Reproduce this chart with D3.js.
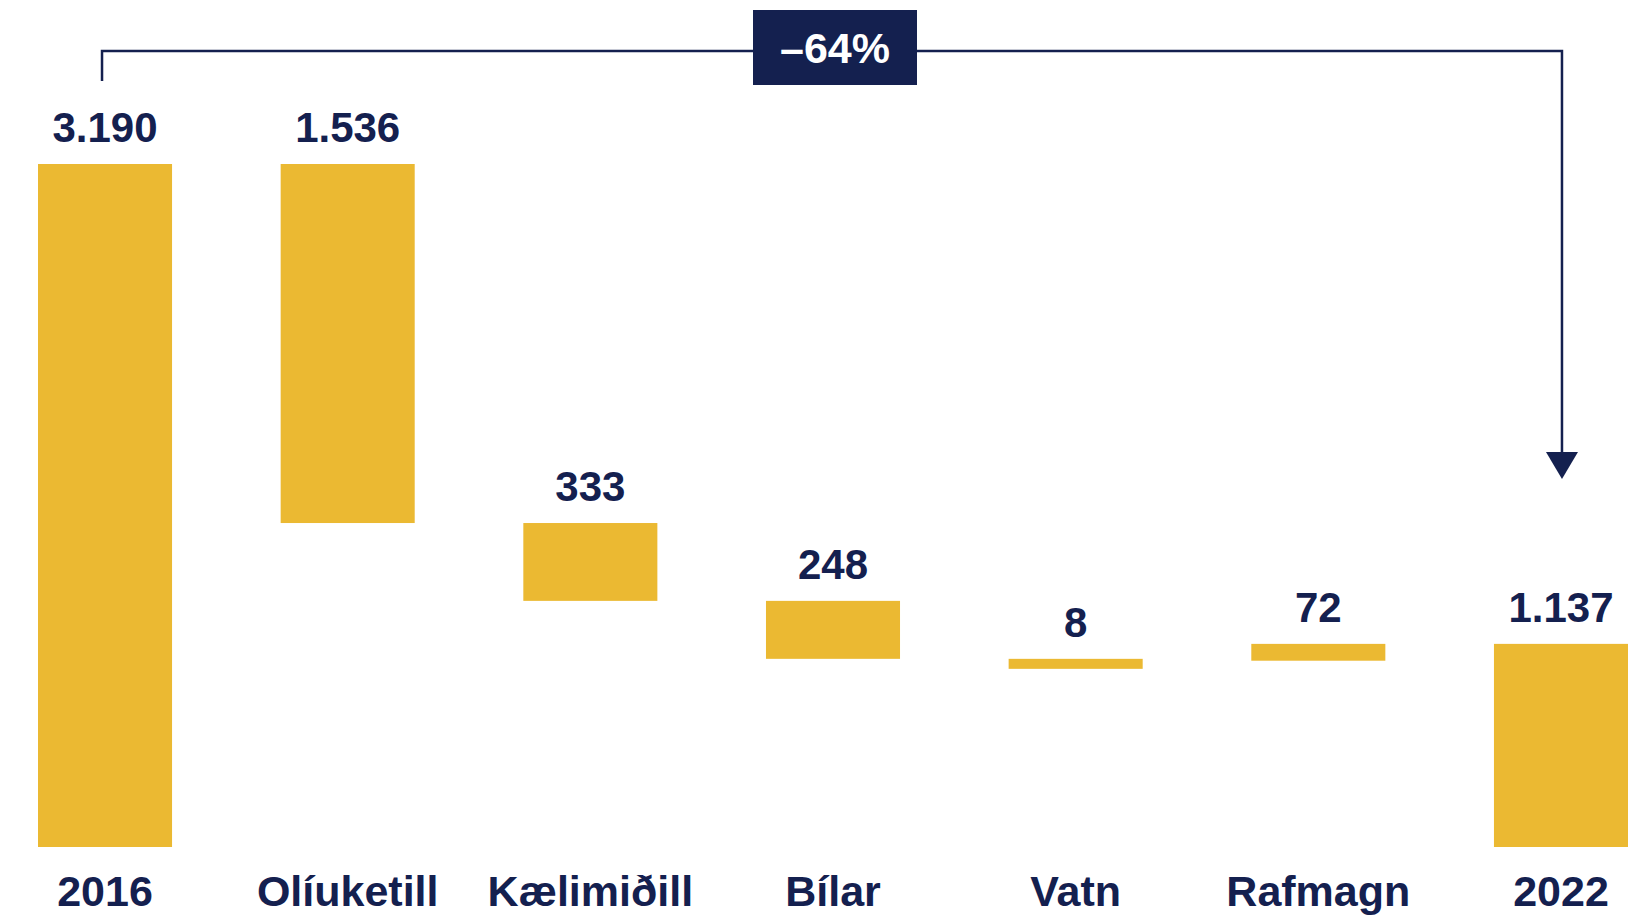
<!DOCTYPE html>
<html>
<head>
<meta charset="utf-8">
<script src="https://cdn.jsdelivr.net/npm/d3@7"></script>
<style>
  html, body { margin: 0; padding: 0; background: #ffffff; }
  svg { display: block; }
  text { font-family: "Liberation Sans", Arial, Helvetica, sans-serif; font-weight: bold; }
</style>
</head>
<body>
<svg id="chart" width="1630" height="916"></svg>
<script>
// Waterfall steps: start total, changes, end total
const categories = ["2016", "Olíuketill", "Kælimiðill", "Bílar", "Vatn", "Rafmagn", "2022"];
const kinds      = ["total", "delta", "delta", "delta", "delta", "delta", "total"];
const changes    = [3190, -1536, -333, -248, -8, 72, 1137];
const valueLabels = ["3.190", "1.536", "333", "248", "8", "72", "1.137"];
const changeLabel = "–64%";

const GOLD = "#EBB932";
const NAVY = "#14204F";

const svg = d3.select("#chart");

// running totals -> [from, to] for each bar
let running = 0;
const bars = categories.map((c, i) => {
  let from, to;
  if (kinds[i] === "total") { from = 0; to = changes[i]; running = changes[i]; }
  else { from = running; to = running + changes[i]; running = to; }
  return { cat: c, from, to, label: valueLabels[i] };
});

const x = d3.scaleBand()
  .domain(categories)
  .range([38, 1628])
  .paddingInner(0.4476)
  .paddingOuter(0);

// value axis starts above zero so the small steps stay readable
const y = d3.scaleLinear().domain([268, 3190]).range([847, 164]);
const baseY = y.range()[0];
const minBar = 10;

function barTop(d) {
  const lo = d.from === 0 ? baseY : y(d.from);
  const hi = y(d.to);
  return Math.min(lo, hi);
}
function barHeight(d) {
  const lo = d.from === 0 ? baseY : y(d.from);
  const hi = y(d.to);
  return Math.max(minBar, Math.abs(lo - hi));
}

svg.append("g")
  .selectAll("rect")
  .data(bars)
  .join("rect")
  .attr("x", d => x(d.cat))
  .attr("y", d => barTop(d))
  .attr("width", x.bandwidth())
  .attr("height", d => barHeight(d))
  .attr("fill", GOLD);

// value labels above each bar
svg.append("g")
  .selectAll("text")
  .data(bars)
  .join("text")
  .attr("x", d => x(d.cat) + x.bandwidth() / 2)
  .attr("y", d => barTop(d) - 22)
  .attr("text-anchor", "middle")
  .attr("font-size", 42)
  .attr("fill", NAVY)
  .text(d => d.label);

// category axis labels
const xAxis = svg.append("g")
  .attr("transform", `translate(0,${baseY})`)
  .call(d3.axisBottom(x).tickSize(0).tickPadding(0));
xAxis.select(".domain").remove();
xAxis.selectAll("text")
  .attr("y", 59)
  .attr("dy", null)
  .attr("font-size", 43)
  .attr("font-family", "'Liberation Sans', Arial, sans-serif")
  .attr("font-weight", "bold")
  .attr("fill", NAVY);

// bracket from first total to last total with arrow
const xStart = x(categories[0]) + x.bandwidth() / 2 - 3;
const xEnd = x(categories[categories.length - 1]) + x.bandwidth() / 2 + 1;
const bracketY = 51, leftFoot = 81, arrowTip = 479, arrowH = 27, arrowW = 32;

svg.append("path")
  .attr("d", `M${xStart},${leftFoot} V${bracketY} H${xEnd} V${arrowTip - arrowH + 1}`)
  .attr("fill", "none")
  .attr("stroke", NAVY)
  .attr("stroke-width", 2.5);

svg.append("path")
  .attr("d", `M${xEnd - arrowW / 2},${arrowTip - arrowH} L${xEnd + arrowW / 2},${arrowTip - arrowH} L${xEnd},${arrowTip} Z`)
  .attr("fill", NAVY);

// change badge
const boxCx = 835, boxW = 164, boxTop = 10, boxH = 75;
svg.append("rect")
  .attr("x", boxCx - boxW / 2)
  .attr("y", boxTop)
  .attr("width", boxW)
  .attr("height", boxH)
  .attr("fill", NAVY);
svg.append("text")
  .attr("x", boxCx)
  .attr("y", 63)
  .attr("text-anchor", "middle")
  .attr("font-size", 43)
  .attr("fill", "#ffffff")
  .text(changeLabel);
</script>
</body>
</html>
